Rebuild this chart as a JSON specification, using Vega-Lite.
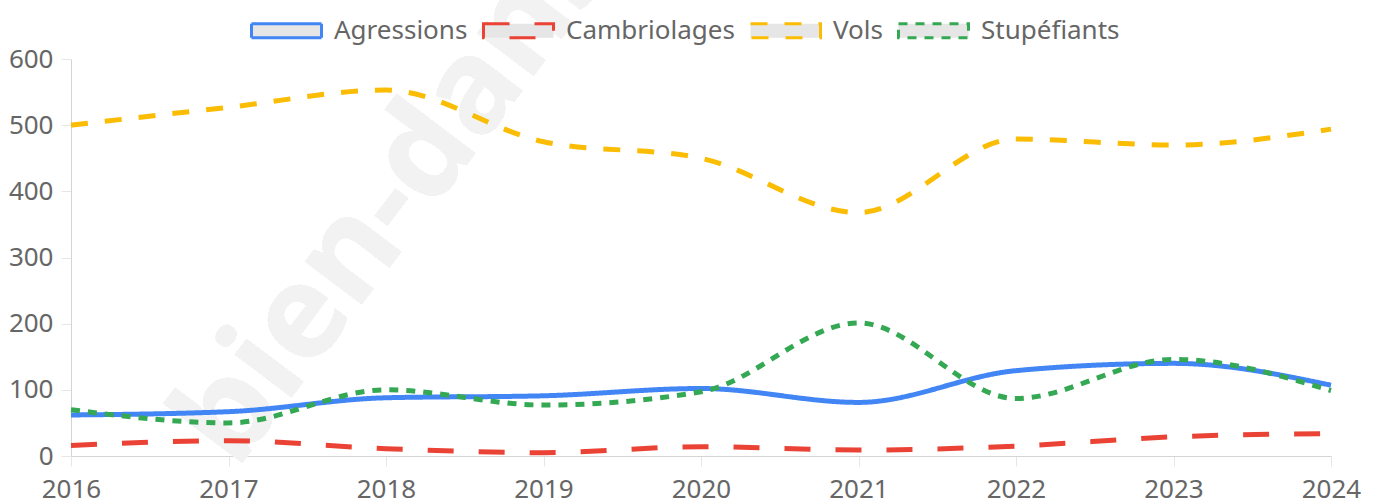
{
  "$schema": "https://vega.github.io/schema/vega-lite/v6.json",
  "width": 1260,
  "height": 397,
  "autosize": {"type": "none"},
  "padding": {"left": 71, "top": 59, "right": 48, "bottom": 48},
  "background": "white",
  "config": {"view": {"stroke": null}, "font": "Noto Sans"},
  "data": {
    "values": [
      {"annee": 2016, "serie": "Agressions", "valeur": 62},
      {"annee": 2017, "serie": "Agressions", "valeur": 67},
      {"annee": 2018, "serie": "Agressions", "valeur": 88},
      {"annee": 2019, "serie": "Agressions", "valeur": 91},
      {"annee": 2020, "serie": "Agressions", "valeur": 102},
      {"annee": 2021, "serie": "Agressions", "valeur": 81},
      {"annee": 2022, "serie": "Agressions", "valeur": 129},
      {"annee": 2023, "serie": "Agressions", "valeur": 140},
      {"annee": 2024, "serie": "Agressions", "valeur": 107},
      {"annee": 2016, "serie": "Cambriolages", "valeur": 16},
      {"annee": 2017, "serie": "Cambriolages", "valeur": 23},
      {"annee": 2018, "serie": "Cambriolages", "valeur": 11},
      {"annee": 2019, "serie": "Cambriolages", "valeur": 5},
      {"annee": 2020, "serie": "Cambriolages", "valeur": 14},
      {"annee": 2021, "serie": "Cambriolages", "valeur": 9},
      {"annee": 2022, "serie": "Cambriolages", "valeur": 15},
      {"annee": 2023, "serie": "Cambriolages", "valeur": 29},
      {"annee": 2024, "serie": "Cambriolages", "valeur": 34},
      {"annee": 2016, "serie": "Vols", "valeur": 500},
      {"annee": 2017, "serie": "Vols", "valeur": 527},
      {"annee": 2018, "serie": "Vols", "valeur": 553},
      {"annee": 2019, "serie": "Vols", "valeur": 475},
      {"annee": 2020, "serie": "Vols", "valeur": 450},
      {"annee": 2021, "serie": "Vols", "valeur": 368},
      {"annee": 2022, "serie": "Vols", "valeur": 479},
      {"annee": 2023, "serie": "Vols", "valeur": 470},
      {"annee": 2024, "serie": "Vols", "valeur": 494},
      {"annee": 2016, "serie": "Stupéfiants", "valeur": 70},
      {"annee": 2017, "serie": "Stupéfiants", "valeur": 50},
      {"annee": 2018, "serie": "Stupéfiants", "valeur": 100},
      {"annee": 2019, "serie": "Stupéfiants", "valeur": 77},
      {"annee": 2020, "serie": "Stupéfiants", "valeur": 97},
      {"annee": 2021, "serie": "Stupéfiants", "valeur": 201},
      {"annee": 2022, "serie": "Stupéfiants", "valeur": 87},
      {"annee": 2023, "serie": "Stupéfiants", "valeur": 146},
      {"annee": 2024, "serie": "Stupéfiants", "valeur": 99}
    ]
  },
  "layer": [
    {
      "mark": {"type": "text", "text": "bien-dans-ma-ville.fr", "angle": -53, "align": "left", "baseline": "alphabetic", "fontSize": 130, "fontWeight": "bold", "font": "Noto Sans", "fill": "#f2f2f2"},
      "encoding": {"x": {"datum": 2017.05}, "y": {"datum": -22}}
    },
    {
      "mark": {"type": "line", "interpolate": "monotone", "strokeWidth": 5, "clip": false},
      "encoding": {
        "x": {
          "field": "annee", "type": "quantitative",
          "scale": {"domain": [2016, 2024], "nice": false, "zero": false},
          "axis": {
            "title": null, "values": [2016, 2017, 2018, 2019, 2020, 2021, 2022, 2023, 2024], "format": "d",
            "labelFontSize": 26, "labelColor": "#666666", "labelFont": "Noto Sans",
            "tickSize": 10, "tickColor": "#e6e6e6", "gridColor": "#e6e6e6", "domainColor": "#d4d4d4",
            "labelPadding": 10, "labelFlush": false, "labelOverlap": false
          }
        },
        "y": {
          "field": "valeur", "type": "quantitative",
          "scale": {"domain": [0, 600], "nice": false},
          "axis": {
            "title": null, "values": [0, 100, 200, 300, 400, 500, 600],
            "labelFontSize": 26, "labelColor": "#666666", "labelFont": "Noto Sans",
            "tickSize": 10, "tickColor": "#e6e6e6", "gridColor": "#e6e6e6", "domainColor": "#d4d4d4",
            "labelPadding": 8, "labelOverlap": false
          }
        },
        "color": {
          "field": "serie", "type": "nominal",
          "scale": {"domain": ["Agressions", "Cambriolages", "Vols", "Stupéfiants"], "range": ["#4285F4", "#EA4335", "#FBBC04", "#34A853"]},
          "legend": {
            "orient": "none", "legendX": 179, "legendY": -65, "direction": "horizontal", "title": null,
            "symbolType": "M-1,-0.2H1V0.2H-1Z", "symbolSize": 4900, "symbolStrokeWidth": 3,
            "labelFontSize": 26, "labelColor": "#666666", "labelFont": "Noto Sans",
            "labelOffset": 11, "columnPadding": 9, "labelLimit": 0,
            "encode": {"symbols": {"update": {"fill": {"value": "#e6e6e6"}, "fillOpacity": {"value": 1}, "strokeWidth": {"value": 3}, "opacity": {"value": 1}}}}
          }
        },
        "strokeDash": {
          "field": "serie", "type": "nominal",
          "scale": {"domain": ["Agressions", "Cambriolages", "Vols", "Stupéfiants"], "range": [[1, 0], [26, 25], [17, 17], [9, 8]]},
          "legend": {
            "orient": "none", "legendX": 179, "legendY": -65, "direction": "horizontal", "title": null,
            "symbolType": "M-1,-0.2H1V0.2H-1Z", "symbolSize": 4900, "symbolStrokeWidth": 3,
            "labelFontSize": 26, "labelColor": "#666666", "labelFont": "Noto Sans",
            "labelOffset": 11, "columnPadding": 9, "labelLimit": 0,
            "encode": {"symbols": {"update": {"fill": {"value": "#e6e6e6"}, "fillOpacity": {"value": 1}, "strokeWidth": {"value": 3}, "opacity": {"value": 1}}}}
          }
        }
      }
    }
  ]
}
